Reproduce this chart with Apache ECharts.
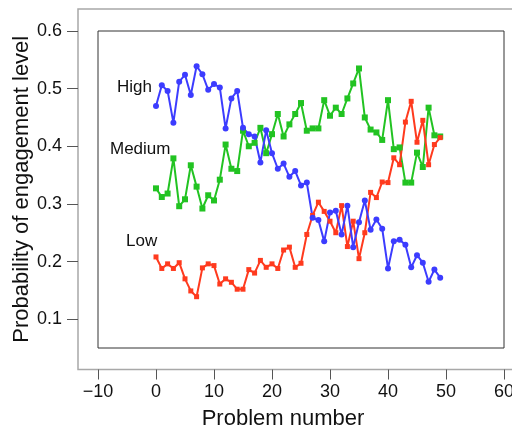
<!DOCTYPE html>
<html>
<head>
<meta charset="utf-8">
<script src="https://cdn.jsdelivr.net/npm/echarts@6/dist/echarts.min.js"></script>
<style>
  html, body { margin: 0; padding: 0; background: #fff; }
  #chart { width: 512px; height: 428px; }
</style>
</head>
<body>
<div id="chart"></div>
<script>
// probability per problem (problem number = index, 0..49)
var high = [0.470, 0.506, 0.496, 0.441, 0.512, 0.524, 0.489, 0.539, 0.525, 0.498,
            0.508, 0.502, 0.431, 0.483, 0.496, 0.432, 0.421, 0.417, 0.372, 0.428,
            0.388, 0.361, 0.370, 0.347, 0.357, 0.332, 0.337, 0.276, 0.272, 0.235,
            0.285, 0.288, 0.247, 0.297, 0.225, 0.268, 0.306, 0.255, 0.273, 0.257,
            0.188, 0.235, 0.238, 0.229, 0.190, 0.211, 0.198, 0.165, 0.186, 0.172];
var medium = [0.327, 0.312, 0.318, 0.379, 0.296, 0.308, 0.367, 0.330, 0.292, 0.315,
              0.306, 0.342, 0.403, 0.361, 0.357, 0.427, 0.400, 0.406, 0.432, 0.388,
              0.421, 0.456, 0.417, 0.438, 0.456, 0.475, 0.427, 0.431, 0.431, 0.480,
              0.453, 0.467, 0.456, 0.483, 0.509, 0.535, 0.450, 0.429, 0.424, 0.411,
              0.480, 0.395, 0.398, 0.337, 0.337, 0.389, 0.364, 0.467, 0.419, 0.417];
var low = [0.208, 0.188, 0.196, 0.188, 0.198, 0.170, 0.149, 0.139, 0.189, 0.196,
           0.193, 0.161, 0.170, 0.164, 0.152, 0.152, 0.186, 0.180, 0.202, 0.190,
           0.196, 0.188, 0.220, 0.225, 0.190, 0.197, 0.247, 0.280, 0.303, 0.287,
           0.270, 0.250, 0.297, 0.226, 0.270, 0.205, 0.250, 0.320, 0.311, 0.338,
           0.337, 0.380, 0.368, 0.442, 0.478, 0.407, 0.445, 0.368, 0.403, 0.415];

var xTickVals = [-10, 0, 10, 20, 30, 40, 50, 60];
var yMajorVals = [0.1, 0.2, 0.3, 0.4, 0.5, 0.6];
var yMinorVals = [0.05, 0.15, 0.25, 0.35, 0.45, 0.55];

function pairs(arr) {
    return arr.map(function (v, i) { return [i, v]; });
}

// inner box: x -10..60 over 98..504 px, y 0.05..0.6 over 348..31 px
// outer (offset axes) frame: 78..578 px wide, 9..369.5 px tall
var pxX = (504 - 98) / 70;
var pxY = (348 - 31) / 0.55;
var outerX = [-10 - 20 / pxX, -10 - 20 / pxX + 500 / pxX];
var outerY = [0.05 - 21.5 / pxY, 0.6 + 22 / pxY];

var chart = echarts.init(document.getElementById('chart'));
var font = 'Liberation Sans, Arial, sans-serif';

function lineSeries(name, vals, color, symbol, size) {
    return {
        name: name,
        type: 'line',
        xAxisIndex: 0,
        yAxisIndex: 0,
        data: pairs(vals),
        symbol: symbol,
        symbolSize: size,
        showSymbol: true,
        itemStyle: { color: color },
        lineStyle: { color: color, width: 2 }
    };
}

chart.setOption({
    animation: false,
    grid: [
        { left: 98, right: 8, top: 31, bottom: 80, show: true, borderColor: '#333', borderWidth: 1,
          outerBoundsMode: 'none', containLabel: false },
        { left: 78, top: 9, width: 500, height: 360.5, show: true, borderColor: '#a8a8a8', borderWidth: 1.5,
          outerBoundsMode: 'none', containLabel: false }
    ],
    graphic: [
        { type: 'text', left: 117, top: 79, style: { text: 'High', font: '17px ' + font, fill: '#111' } },
        { type: 'text', left: 110, top: 141, style: { text: 'Medium', font: '17px ' + font, fill: '#111' } },
        { type: 'text', left: 126, top: 233, style: { text: 'Low', font: '17px ' + font, fill: '#111' } }
    ],
    xAxis: [
        { type: 'value', gridIndex: 0, min: -10, max: 60, show: false },
        {
            type: 'value', gridIndex: 1,
            min: outerX[0], max: outerX[1],
            name: 'Problem number',
            nameLocation: 'middle',
            nameGap: 38,
            nameMoveOverlap: false,
            nameTextStyle: { fontSize: 22, color: '#111', fontFamily: font, padding: [0, 90, 0, 0] },
            axisLine: { show: false, onZero: false },
            axisTick: { show: true, length: 10, customValues: xTickVals, lineStyle: { color: '#555' } },
            axisLabel: {
                margin: 14, fontSize: 18, color: '#111', fontFamily: font,
                customValues: xTickVals,
                formatter: function (v) { return v < 0 ? '\u2212' + Math.abs(v) : String(v); }
            },
            splitLine: { show: false }
        }
    ],
    yAxis: [
        { type: 'value', gridIndex: 0, min: 0.05, max: 0.6, show: false },
        {
            type: 'value', gridIndex: 1,
            min: outerY[0], max: outerY[1],
            name: 'Probability of engagement level',
            nameLocation: 'middle',
            nameGap: 45,
            nameMoveOverlap: false,
            nameTextStyle: { fontSize: 22, color: '#111', fontFamily: font },
            axisLine: { show: false, onZero: false },
            axisTick: { show: true, length: 11, customValues: yMajorVals, lineStyle: { color: '#555' } },
            axisLabel: {
                margin: 16, fontSize: 18, color: '#111', fontFamily: font,
                customValues: yMajorVals,
                formatter: function (v) { return v.toFixed(1); }
            },
            splitLine: { show: false }
        },
        {
            type: 'value', gridIndex: 1,
            min: outerY[0], max: outerY[1],
            axisLine: { show: false, onZero: false },
            axisTick: { show: true, length: 6, customValues: yMinorVals, lineStyle: { color: '#555' } },
            axisLabel: { show: false },
            splitLine: { show: false }
        }
    ],
    series: [
        lineSeries('Medium', medium, '#22c322', 'rect', 6),
        lineSeries('Low', low, '#ff3a1e', 'rect', 5),
        lineSeries('High', high, '#3c3cff', 'circle', 6)
    ]
});
</script>
</body>
</html>
